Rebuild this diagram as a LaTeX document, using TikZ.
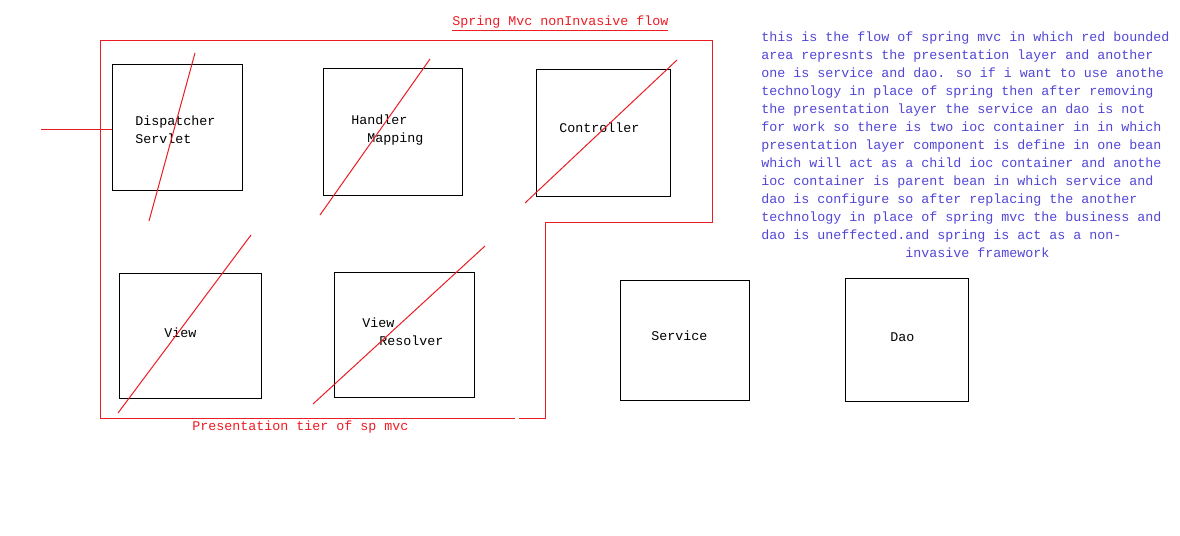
\documentclass[tikz,border=0pt]{standalone}
\usepackage{fontspec}
\setmainfont{Liberation Mono}
\usepackage{tikz}
\usetikzlibrary{calc}
\usetikzlibrary{fit,positioning}

\definecolor{paintred}{RGB}{237,28,36}
\definecolor{noteblue}{RGB}{82,70,214}

\begin{document}
\begin{tikzpicture}[x=0.75pt,y=-0.75pt]
      \tikzstyle{box}=[draw=black,line width=0.75pt,inner sep=0pt]
      \tikzstyle{lbl}=[inner sep=0pt,anchor=base west,font=\fontsize{10}{13.5}\selectfont]
      \tikzstyle{redline}=[draw=paintred,line width=0.75pt]
      \useasboundingbox[fill=white] (0,0) rectangle (1180,535);

      % boxes
      \node[box,fit={(112,65) (242,190)}] (disp) {};
      \node[box,fit={(323,69) (462,195)}] (hmap) {};
      \node[box,fit={(536,70) (670,196)}] (ctrl) {};
      \node[box,fit={(119,273) (261,398)}] (view) {};
      \node[box,fit={(334,272) (474,397)}] (vres) {};
      \node[box,fit={(620,280) (749,400)}] (serv) {};
      \node[box,fit={(845,278) (968,401)}] (dao) {};

      % box texts
      \node[lbl] (dispT) at (135,125) {Dispatcher};
      \node[lbl] (dispT2) at (135,143) {Servlet};
      \node[lbl] (hmapT) at (351,124) {Handler};
      \node[lbl] (hmapT2) at (367,142) {Mapping};
      \node[lbl] (ctrlT) at (559,132) {Controller};
      \node[lbl] (viewT) at (164,337) {View};
      \node[lbl] (vresT) at (362,327) {View};
      \node[lbl] (vresT2) at (379,345) {Resolver};
      \node[lbl] (servT) at (651,340) {Service};
      \node[lbl] (daoT) at (890,341) {Dao};

      % red boundary of presentation tier
      \draw[redline] (100,41) -- (712,41) -- (712,222) -- (545,222) -- (545,418) -- (519,418);
      \draw[redline] (515,418) -- (100,418) -- (100,41);
      \coordinate (in) at (41,129);
      \draw[redline] (in) -- (disp.west |- in);

      % crossed out
      \draw[redline] (195,53) -- (149,221);
      \draw[redline] (430,59) -- (320,215);
      \draw[redline] (677,60) -- (525,203);
      \draw[redline] (251,235) -- (118,413);
      \draw[redline] (485,246) -- (313,404);

      \node[lbl,text=paintred] (title) at (452,26) {\underline{Spring Mvc nonInvasive flow}};
      \node[lbl,text=paintred] (tier) at (192,430) {Presentation tier of sp mvc};

      \node[lbl,text=noteblue,align=left] (note) at (761,257) {this is the flow of spring mvc in which red bounded\\
area represnts the presentation layer and another\\
one is service and dao. so if i want to use anothe\\
technology in place of spring then after removing\\
the presentation layer the service an dao is not\\
for work so there is two ioc container in in which\\
presentation layer component is define in one bean\\
which will act as a child ioc container and anothe\\
ioc container is parent bean in which service and\\
dao is configure so after replacing the another\\
technology in place of spring mvc the business and\\
dao is uneffected.and spring is act as a non-\\
\phantom{dao is uneffected.}invasive framework};
\end{tikzpicture}
\end{document}
